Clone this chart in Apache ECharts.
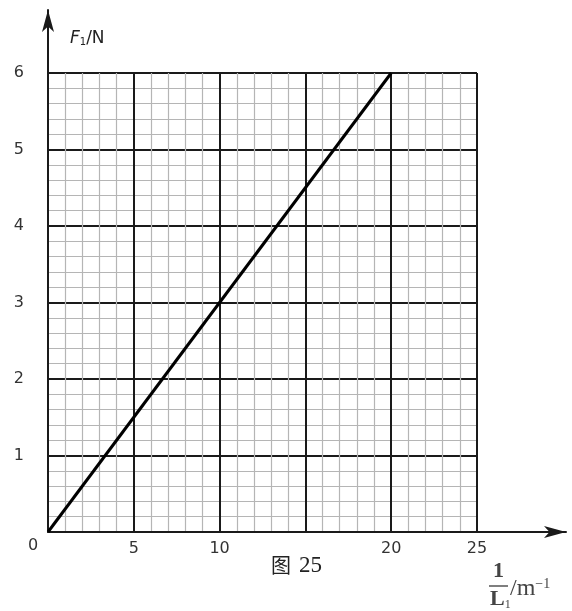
<!DOCTYPE html>
<html>
<head>
<meta charset="utf-8">
<script src="https://cdn.jsdelivr.net/npm/echarts@6/dist/echarts.min.js"></script>
<style>
  html, body {margin: 0; padding: 0; background: #fff;}
  #chart {width: 572px; height: 611px;}
</style>
</head>
<body>
<div id="chart"></div>
<script>
// values
const xTicks = [0, 5, 10, 15, 20, 25];
const xShown = [5, 10, 20, 25];
const yTicks = [0, 1, 2, 3, 4, 5, 6];
const lineX = [0, 20];
const lineY = [0, 6];

const chart = echarts.init(document.getElementById("chart"));

const tickFont = {fontFamily: "DejaVu Sans", fontSize: 16, color: "#333"};
const major = {lineStyle: {color: "#1a1a1a", width: 2}};
const minor = {lineStyle: {color: "#b5b5b5", width: 1.2}};
const serif = "Liberation Serif";

const option = {
  animation: false,
  backgroundColor: "#fff",
  grid: [
    {left: 48, right: 95, top: 73, bottom: 79},
    // bigger grid only for the arrowed axes
    {left: 48, right: 6, top: 10, bottom: 79},
  ],
  xAxis: [
    {
      gridIndex: 0, type: "value", min: xTicks[0], max: xTicks[xTicks.length - 1], interval: 5,
      axisLine: {show: false}, axisTick: {show: false},
      axisLabel: {...tickFont, margin: 9, formatter: (v) => (xShown.includes(v) ? String(v) : "")},
      splitLine: {show: true, ...major},
      minorTick: {show: false, splitNumber: 5},
      minorSplitLine: {show: true, ...minor},
    },
    {
      gridIndex: 1, type: "value", min: 0, max: 1,
      axisLine: {show: true, symbol: ["none", "arrow"], symbolSize: [9, 22], lineStyle: {color: "#1a1a1a", width: 2}},
      axisTick: {show: false}, axisLabel: {show: false}, splitLine: {show: false},
    },
  ],
  yAxis: [
    {
      gridIndex: 0, type: "value", min: yTicks[0], max: yTicks[yTicks.length - 1], interval: 1,
      axisLine: {show: false}, axisTick: {show: false},
      axisLabel: {...tickFont, margin: 24, formatter: (v) => (v === 0 ? "" : String(v))},
      splitLine: {show: true, ...major},
      minorTick: {show: false, splitNumber: 5},
      minorSplitLine: {show: true, ...minor},
    },
    {
      gridIndex: 1, type: "value", min: 0, max: 1,
      axisLine: {show: true, symbol: ["none", "arrow"], symbolSize: [9, 22], lineStyle: {color: "#1a1a1a", width: 2}},
      axisTick: {show: false}, axisLabel: {show: false}, splitLine: {show: false},
    },
  ],
  series: [
    {
      type: "line",
      xAxisIndex: 0, yAxisIndex: 0,
      data: lineX.map((x, i) => [x, lineY[i]]),
      showSymbol: false,
      lineStyle: {color: "#000", width: 3},
      z: 5,
    },
  ],
  graphic: [
    {type: "text", left: 28, top: 538, style: {text: "0", fontFamily: "DejaVu Sans", fontSize: 16, fill: "#333"}},
    {
      type: "text", left: 70, top: 30,
      style: {
        text: "{f|F}{s|1}{n|/N}",
        rich: {
          f: {fontFamily: "DejaVu Sans", fontStyle: "italic", fontSize: 17, fill: "#222"},
          s: {fontFamily: "DejaVu Sans", fontSize: 10, fill: "#222", padding: [8, 0, 0, 0]},
          n: {fontFamily: "DejaVu Sans", fontSize: 17, fill: "#222"},
        },
      },
    },
    {
      type: "text", left: 271, top: 554,
      style: {
        text: "{c|图}{d|25}",
        rich: {
          c: {fontFamily: "Noto Sans CJK SC", fontSize: 20, fill: "#222", padding: [0, 8, 0, 0]},
          d: {fontFamily: serif, fontSize: 23, fill: "#222"},
        },
      },
    },
    {type: "text", left: 493, top: 560, style: {text: "1", fontFamily: serif, fontWeight: "bold", fontSize: 22, fill: "#444"}},
    {type: "line", shape: {x1: 489, y1: 586, x2: 508, y2: 586}, style: {stroke: "#555", lineWidth: 1.5}},
    {
      type: "text", left: 490, top: 588,
      style: {
        text: "{l|L}{s|1}",
        rich: {
          l: {fontFamily: serif, fontWeight: "bold", fontSize: 22, fill: "#444"},
          s: {fontFamily: serif, fontSize: 12, fill: "#444", padding: [12, 0, 0, 0]},
        },
      },
    },
    {
      type: "text", left: 510, top: 577,
      style: {
        text: "{a|/m}{b|−1}",
        rich: {
          a: {fontFamily: serif, fontSize: 24, fill: "#444"},
          b: {fontFamily: serif, fontSize: 14, fill: "#444", padding: [0, 0, 10, 0]},
        },
      },
    },
  ],
};

chart.setOption(option);
</script>
</body>
</html>
